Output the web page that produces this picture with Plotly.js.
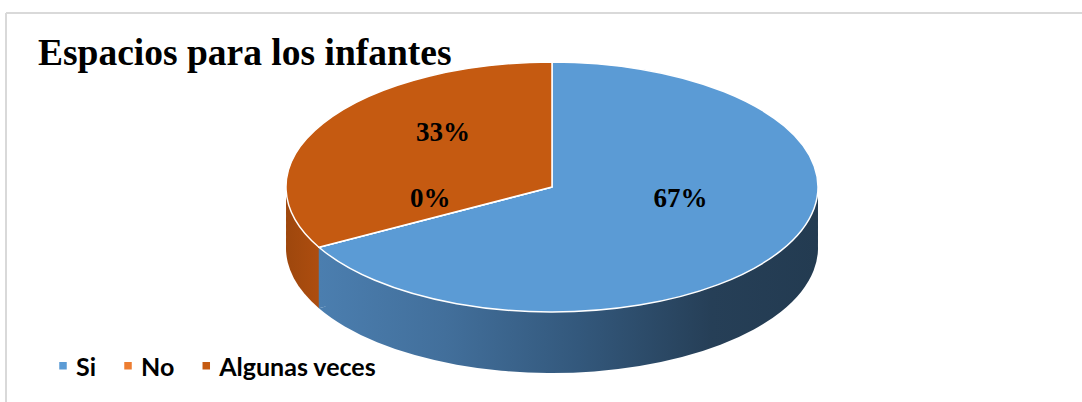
<!DOCTYPE html>
<html><head><meta charset="utf-8">
<script src="https://cdn.plot.ly/plotly-3.0.1.min.js"></script>
<style>html,body{margin:0;padding:0;background:#fff}#chart{width:1082px;height:402px}</style>
</head><body><div id="chart"></div>
<script>
// ---- data ----
const categories = ['Si', 'No', 'Algunas veces'];
const percentages = [67, 0, 33];
const topColors = ['#5B9BD5', '#ED7D31', '#C55A11'];
const sideColors = ['#3F6F9C', '#B35E24', '#A84B0E'];
const chartTitle = 'Espacios para los infantes';

// ---- appearance of the tilted pie (pixels) ----
const ELL = {cx: 552, cy: 187, a: 266, b: 125, depth: 61};
const LABEL_SHIFT = {x: 14, y: -17};
const labelFont = {family: 'Liberation Serif, Times New Roman, serif', size: 27, color: '#000000', weight: 'bold'};

const total = percentages.reduce(function (s, v) { return s + v; }, 0);
const pctText = function (v) { return Math.round(100 * v / total) + '%'; };

// position of the label of the empty slice (on the ellipse, from the data)
const zeroIdx = percentages.indexOf(0);
const zeroAngle = 2 * Math.PI * percentages.slice(0, zeroIdx + 1).reduce(function (s, v) { return s + v; }, 0) / total;
const zf = 0.58;
const zx = ELL.cx + ELL.a * zf * Math.sin(zeroAngle) + LABEL_SHIFT.x;
const zy = ELL.cy - ELL.b * zf * Math.cos(zeroAngle) + LABEL_SHIFT.y - 7;

const gd = document.getElementById('chart');
const common = {
  type: 'pie', labels: categories, values: percentages, sort: false,
  direction: 'clockwise', rotation: 0, domain: {x: [0, 1], y: [0, 1]},
  hoverinfo: 'skip'
};
const data = [
  Object.assign({}, common, {name: 'side', marker: {colors: sideColors, line: {width: 0}},
    textinfo: 'none', showlegend: false}),
  Object.assign({}, common, {name: 'top', marker: {colors: topColors, line: {color: '#ffffff', width: 1.5}},
    texttemplate: '%{percent:.0%}', textposition: 'inside', insidetextorientation: 'horizontal',
    textfont: labelFont})
];
const layout = {
  width: 1082, height: 402, margin: {l: 0, r: 0, t: 0, b: 0},
  paper_bgcolor: '#ffffff',
  title: {text: chartTitle, font: {family: 'Liberation Serif, Times New Roman, serif', size: 37.5, color: '#000000', weight: 'bold'},
    xref: 'container', x: 38 / 1082, xanchor: 'left', yref: 'container', y: 1 - 52 / 402, yanchor: 'middle'},
  showlegend: true,
  legend: {orientation: 'h', x: 36 / 1082, xanchor: 'left', y: 1 - 366 / 402, yanchor: 'middle',
    font: {family: 'Lato, Open Sans, sans-serif', size: 25, color: '#000000', weight: 'bold'},
    bgcolor: 'rgba(0,0,0,0)', traceorder: 'normal'},
  annotations: [
    {xref: 'paper', yref: 'paper', x: zx / 1082, y: 1 - zy / 402, text: pctText(percentages[zeroIdx]),
     showarrow: false, font: labelFont, xanchor: 'center', yanchor: 'middle'}
  ],
  shapes: [
    {type: 'line', xref: 'paper', yref: 'paper', x0: 6 / 1082, x1: 1, y0: 1 - 13 / 402, y1: 1 - 13 / 402, line: {color: '#d9d9d9', width: 2}},
    {type: 'line', xref: 'paper', yref: 'paper', x0: 6 / 1082, x1: 6 / 1082, y0: 0, y1: 1 - 13 / 402, line: {color: '#d9d9d9', width: 2}}
  ]
};

Plotly.newPlot(gd, data, layout, {staticPlot: true}).then(function () {
  const ns = 'http://www.w3.org/2000/svg';
  const traces = gd.querySelectorAll('.pielayer .trace');
  const cd0 = gd.calcdata[1][0];
  const r = cd0.r, cx = cd0.cx, cy = cd0.cy;
  const sx = ELL.a / r, sy = ELL.b / r;
  const tf = function (dy) {
    return 'translate(' + ELL.cx + ',' + (ELL.cy + dy) + ') scale(' + sx + ',' + sy + ') translate(' + (-cx) + ',' + (-cy) + ')';
  };
  // side wall gradient, in the untransformed pie space; the orange / blue split
  // sits where the last slice boundary meets the rim
  const boundary = (1 + Math.sin(2 * Math.PI * percentages[0] / total)) / 2;
  const defs = gd.querySelector('svg.main-svg defs');
  const lg = document.createElementNS(ns, 'linearGradient');
  lg.setAttribute('id', 'sideWall');
  lg.setAttribute('gradientUnits', 'userSpaceOnUse');
  lg.setAttribute('x1', cx - r); lg.setAttribute('y1', 0); lg.setAttribute('x2', cx + r); lg.setAttribute('y2', 0);
  [[0, '#9E470D'], [boundary - 0.001, '#AD4D0F'], [boundary, '#4B7EAF'], [0.3, '#426F9B'],
   [0.55, '#33587C'], [0.8, '#263F57'], [1, '#233B51']].forEach(function (s) {
    const st = document.createElementNS(ns, 'stop');
    st.setAttribute('offset', s[0]); st.setAttribute('stop-color', s[1]);
    lg.appendChild(st);
  });
  defs.appendChild(lg);

  const side = traces[0], top = traces[1];
  side.querySelectorAll('path.surface').forEach(function (p) { p.style.fill = 'url(#sideWall)'; });
  const parent = side.parentNode;
  const offsets = [ELL.depth, 54, 47, 40, 33, 26, 19, 12, 6];
  side.setAttribute('transform', tf(offsets[0]));
  for (let i = 1; i < offsets.length; i++) {
    const c = side.cloneNode(true);
    c.setAttribute('transform', tf(offsets[i]));
    parent.insertBefore(c, top);
  }
  top.setAttribute('transform', tf(0));
  top.querySelectorAll('path.surface').forEach(function (p) { p.setAttribute('vector-effect', 'non-scaling-stroke'); });
  top.querySelectorAll('g.slicetext text, g.slicetext').forEach(function (t) {
    const tr = t.getAttribute('transform') || '';
    const m = tr.match(/^\s*translate\(\s*([-\d.e]+)[\s,]+([-\d.e]+)\s*\)(.*)$/);
    if (m) {
      const px = parseFloat(m[1]) + LABEL_SHIFT.x / sx, py = parseFloat(m[2]) + LABEL_SHIFT.y / sy;
      t.setAttribute('transform', 'translate(' + px + ',' + py + ') scale(' + (1 / sx) + ',' + (1 / sy) + ')' + m[3]);
    }
  });
  gd.querySelectorAll('.legend .legendpoints').forEach(function (g) {
    g.setAttribute('transform', 'translate(7,0)');
  });
  gd.querySelectorAll('.legend .legendpoints path').forEach(function (p) {
    p.setAttribute('d', 'M4.5,4.5H-4.5V-4.5H4.5Z');
  });
});
</script>
</body></html>
